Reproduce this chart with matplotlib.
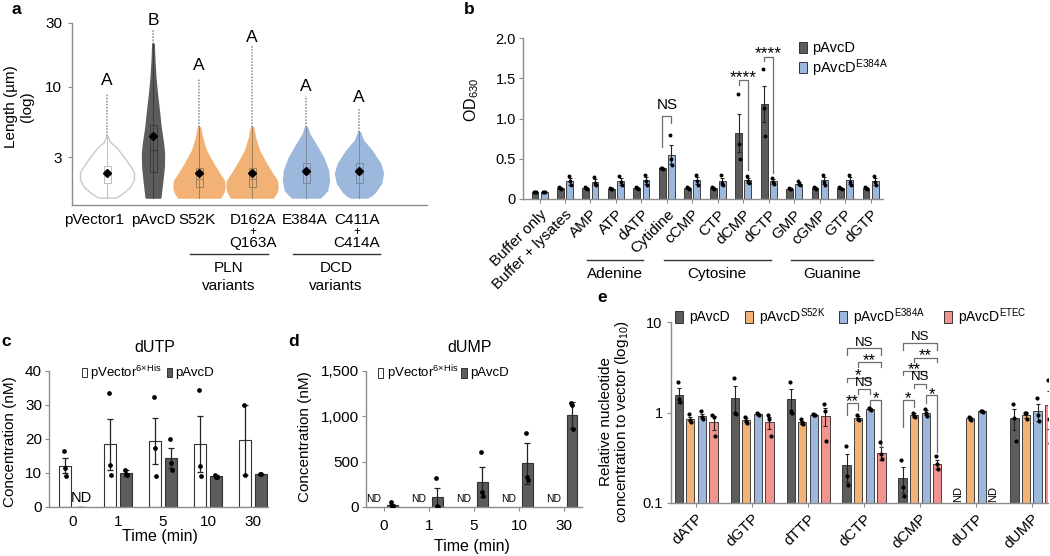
import numpy as np
import matplotlib
matplotlib.use('Agg')
import matplotlib.pyplot as plt
from matplotlib.patches import Rectangle
from matplotlib.ticker import NullLocator, FixedLocator

plt.rcParams['font.family'] = ['Liberation Sans', 'DejaVu Sans']
plt.rcParams['mathtext.fontset'] = 'custom'
plt.rcParams['mathtext.rm'] = 'Liberation Sans'
plt.rcParams['mathtext.default'] = 'regular'

# ---------------- data ----------------
# panel a (violins; profile = length level, half-width in px)
a_groups = ['pVector1', 'pAvcD', 'S52K', 'D162A', 'E384A', 'C411A']
a_prof_len = [
    [1.5, 1.62, 1.8, 2.03, 2.3, 2.53, 3.0, 3.5, 3.9, 4.3],
    [1.5, 1.92, 2.53, 3.2, 3.8, 5.0, 6.7, 9.0, 11.7, 15.9, 21.0],
    [1.5, 1.65, 1.8, 2.0, 2.28, 2.7, 3.36, 4.2, 5.0],
    [1.5, 1.65, 1.8, 2.0, 2.28, 2.7, 3.36, 4.2, 5.0],
    [1.5, 1.6, 1.7, 2.0, 2.4, 3.0, 3.8, 4.5, 5.0],
    [1.5, 1.55, 1.65, 1.92, 2.28, 2.7, 3.36, 4.0, 4.6],
]
a_prof_hw = [
    [9, 16, 23, 27, 27, 24, 17, 10, 3, 0.8],
    [7.3, 9, 10.7, 11, 10, 7.6, 5.8, 3.8, 2.4, 1.3, 0.7],
    [21, 24.5, 25.5, 25, 20, 14, 7, 3, 1.2],
    [21, 24.5, 25.5, 25, 20, 14, 7, 3, 1.2],
    [14, 18, 21, 23, 22, 17, 9, 3, 1.2],
    [8, 12, 16, 22, 24, 21, 12.7, 4, 1],
]
a_tail_top = [9.0, 26.3, 11.6, 20.4, 8.6, 6.9]
a_q1 = [1.92, 2.31, 1.8, 1.8, 1.92, 1.92]
a_median = [2.2, 3.36, 2.06, 2.06, 2.24, 2.24]
a_q3 = [2.57, 5.16, 2.49, 2.49, 2.71, 2.71]
a_mean = [2.29, 4.34, 2.28, 2.28, 2.35, 2.35]
a_letters = ['A', 'B', 'A', 'A', 'A', 'A']

# panel b
b_cats = ['Buffer only', 'Buffer + lysates', 'AMP', 'ATP', 'dATP', 'Cytidine', 'cCMP',
          'CTP', 'dCMP', 'dCTP', 'GMP', 'cGMP', 'GTP', 'dGTP']
b_wt = [0.09, 0.14, 0.14, 0.13, 0.14, 0.38, 0.14, 0.14, 0.82, 1.18, 0.13, 0.14, 0.14, 0.14]
b_wt_sem = [0.005, 0.01, 0.01, 0.01, 0.01, 0.01, 0.01, 0.01, 0.24, 0.22, 0.01, 0.01, 0.01, 0.01]
b_wt_pts = [[0.09, 0.09, 0.09], [0.15, 0.14, 0.13], [0.15, 0.14, 0.13], [0.14, 0.13, 0.12],
            [0.15, 0.14, 0.13], [0.39, 0.38, 0.37], [0.15, 0.14, 0.13], [0.15, 0.14, 0.13],
            [1.3, 0.68, 0.5], [1.61, 1.13, 0.78], [0.14, 0.13, 0.12], [0.15, 0.14, 0.13],
            [0.15, 0.14, 0.13], [0.15, 0.14, 0.13]]
b_mut = [0.09, 0.22, 0.21, 0.22, 0.23, 0.55, 0.23, 0.22, 0.23, 0.22, 0.19, 0.23, 0.23, 0.22]
b_mut_sem = [0.005, 0.04, 0.04, 0.04, 0.04, 0.12, 0.04, 0.04, 0.03, 0.03, 0.02, 0.04, 0.04, 0.04]
b_mut_pts = [[0.09, 0.09, 0.09], [0.28, 0.22, 0.17], [0.27, 0.2, 0.17], [0.29, 0.21, 0.17],
             [0.3, 0.22, 0.18], [0.8, 0.5, 0.42], [0.3, 0.22, 0.18], [0.3, 0.2, 0.17],
             [0.28, 0.22, 0.2], [0.26, 0.21, 0.19], [0.22, 0.19, 0.17], [0.3, 0.21, 0.18],
             [0.3, 0.21, 0.18], [0.29, 0.21, 0.17]]
b_group_names = ['Adenine', 'Cytosine', 'Guanine']
b_group_span = [(2, 4), (5, 9), (10, 13)]
# significance: (category, label, bracket top, left leg end, right leg end, label y)
b_sig = [(5, 'NS', 1.03, 0.65, 0.94, 1.17),
         (8, '****', 1.48, 1.42, 0.36, 1.56),
         (9, '****', 1.77, 1.71, 0.32, 1.86)]

# panel c (dUTP)
c_times = ['0', '1', '5', '10', '30']
c_vec = [12.2, 18.5, 19.5, 18.5, 19.7]
c_vec_sem = [2.3, 7.5, 6.8, 8.2, 10.2]
c_vec_pts = [[16.6, 11.5, 9.2], [33.5, 12.5, 9.5], [32.3, 17.3, 9.0], [34.5, 12.2, 9.2], [30.0, 9.5]]
c_avcd = [np.nan, 10.0, 14.4, 9.0, 9.7]
c_avcd_sem = [0, 0.8, 3.0, 0.3, 0.1]
c_avcd_pts = [[], [11.0, 9.6, 9.4], [20.0, 13.0, 11.0], [9.3, 8.9, 8.9], [9.8, 9.6]]

# panel d (dUMP)
d_times = ['0', '1', '5', '10', '30']
d_avcd = [25, 110, 280, 480, 1015]
d_avcd_sem = [10, 105, 165, 230, 145]
d_avcd_pts = [[55, 15, 5], [320, 10, 5], [610, 160, 120], [816, 330, 300], [1150, 1130, 865]]

# panel e
e_cats = ['dATP', 'dGTP', 'dTTP', 'dCTP', 'dCMP', 'dUTP', 'dUMP']
e_series = ['pAvcD', 'pAvcD$^{S52K}$', 'pAvcD$^{E384A}$', 'pAvcD$^{ETEC}$']
e_mean = [
    [1.58, 1.46, 1.40, 0.26, 0.19, np.nan, 0.87],
    [0.85, 0.82, 0.78, 0.87, 0.94, 0.86, 0.94],
    [0.91, 0.96, 0.95, 1.09, 1.00, 1.03, 1.03],
    [0.78, 0.78, 0.91, 0.36, 0.27, np.nan, 1.20],
]
e_sem = [
    [0.30, 0.50, 0.40, 0.09, 0.06, 0, 0.23],
    [0.05, 0.04, 0.03, 0.04, 0.04, 0.03, 0.06],
    [0.05, 0.01, 0.02, 0.03, 0.07, 0.01, 0.22],
    [0.14, 0.12, 0.20, 0.06, 0.03, 0, 0.55],
]
e_pts = [
    [[2.2, 1.42, 1.31], [2.4, 1.0, 0.97], [2.2, 1.05, 1.0], [0.43, 0.2, 0.16], [0.3, 0.15, 0.12], [], [1.25, 0.87, 0.49]],
    [[0.97, 0.82, 0.78], [0.9, 0.8, 0.76], [0.84, 0.77, 0.74], [0.95, 0.85, 0.82], [1.0, 0.92, 0.9], [0.9, 0.86, 0.83], [1.0, 0.98, 0.85]],
    [[1.03, 0.9, 0.85], [0.98, 0.96, 0.95], [0.97, 0.95, 0.94], [1.12, 1.08, 1.06], [1.1, 1.0, 0.92], [1.04, 1.03, 1.02], [1.46, 0.95, 0.8]],
    [[0.95, 0.9, 0.55], [0.95, 0.85, 0.55], [1.25, 1.05, 0.48], [0.47, 0.35, 0.31], [0.33, 0.27, 0.24], [], [2.3, 0.85, 0.46]],
]
# (category, bar i, bar j, bracket top, left leg end, right leg end, label, label y)
e_sig = [
    (3, 0, 3, 5.1, 4.3, 4.3, 'NS', 6.0),
    (3, 1, 3, 3.57, 3.19, 3.19, '**', 4.3),
    (3, 0, 2, 2.43, 2.18, 2.18, '*', 2.88),
    (3, 1, 2, 1.8, 1.62, 1.62, 'NS', 2.18),
    (3, 0, 1, 1.28, 0.93, 1.06, '**', 1.51),
    (3, 2, 3, 1.37, 1.1, 0.42, '*', 1.62),
    (4, 0, 3, 5.8, 4.88, 4.88, 'NS', 6.97),
    (4, 1, 3, 4.05, 3.62, 3.62, '**', 4.8),
    (4, 0, 2, 2.88, 2.58, 2.58, '**', 3.42),
    (4, 1, 2, 2.04, 1.86, 1.86, 'NS', 2.52),
    (4, 0, 1, 1.39, 0.69, 1.15, '*', 1.62),
    (4, 2, 3, 1.55, 1.26, 0.37, '*', 1.8),
]

# ---------------- style ----------------
W, H = 1050, 556
fig = plt.figure(figsize=(W / 100, H / 100), dpi=100)
DARK = '#5c5c5c'
ORANGE = '#f2b276'
BLUE = '#9db8dd'
RED = '#f19490'
SPINE = '#8c8c8c'
BR = '#6e6e6e'


def axes_px(l, t, r, b):
    return fig.add_axes([l / W, 1 - b / H, (r - l) / W, (b - t) / H])


def ftext(x, y, s, **kw):
    kw.setdefault('ha', 'center')
    kw.setdefault('va', 'center')
    return fig.text(x / W, 1 - y / H, s, **kw)


def fline(x1, x2, y, **kw):
    fig.add_artist(plt.Line2D([x1 / W, x2 / W], [1 - y / H, 1 - y / H],
                              transform=fig.transFigure, **kw))


def fsquare(x, y, w, h, color):
    fig.add_artist(Rectangle((x / W, 1 - (y + h) / H), w / W, h / H, transform=fig.transFigure,
                             facecolor=color, edgecolor='#333333', lw=0.7))


def style(ax, pad=3, ls=10):
    for s in ['top', 'right']:
        ax.spines[s].set_visible(False)
    for s in ['left', 'bottom']:
        ax.spines[s].set_color(SPINE)
        ax.spines[s].set_linewidth(1.0)
    ax.tick_params(axis='both', color=SPINE, length=3, width=0.8, labelsize=ls, pad=pad)


# ---------------- panel a ----------------
axa = axes_px(72, 22.7, 427, 205)
style(axa, pad=4, ls=11)
axa.set_yscale('log')
axa.set_ylim(1.32, 30)
axa.set_xlim(72, 427)
a_pos = [107, 153, 199, 252, 306, 359]
a_face = ['white', DARK, ORANGE, ORANGE, BLUE, BLUE]
a_edge = ['#c9c9c9', DARK, ORANGE, ORANGE, BLUE, BLUE]
a_box = ['#bdbdbd', '#3a3a3a', '#9a8060', '#9a8060', '#7a8aa0', '#7a8aa0']
for i in range(len(a_groups)):
    c = a_pos[i]
    lv = np.array(a_prof_len[i])
    hw = np.array(a_prof_hw[i])
    axa.fill_betweenx(lv, c - hw, c + hw, facecolor=a_face[i], edgecolor=a_edge[i], lw=1.0, zorder=2)
    axa.plot([c, c], [lv[-1], a_tail_top[i]], color='#8a8a8a', lw=1.1, ls=(0, (1.0, 1.0)), zorder=3)
    axa.plot([c, c], [lv[0], lv[-1]], color=a_box[i], lw=0.7, zorder=3)
    axa.add_patch(Rectangle((c - 3.5, a_q1[i]), 7, a_q3[i] - a_q1[i], facecolor='white' if i == 0 else 'none',
                            edgecolor=a_box[i], lw=0.7, zorder=4))
    axa.plot([c - 3.5, c + 3.5], [a_median[i]] * 2, color=a_box[i], lw=0.7, zorder=4)
    axa.plot(c, a_mean[i], marker='D', ms=3.6, color='black', zorder=5)
a_letter_y = [11.2, 30.9, 14.4, 23.3, 10.0, 8.3]
for i, L in enumerate(a_letters):
    axa.text(a_pos[i], a_letter_y[i], L, ha='center', va='center', fontsize=12.5, clip_on=False)
axa.set_yticks([3, 10, 30])
axa.set_yticklabels(['3', '10', '30'])
axa.yaxis.set_minor_locator(NullLocator())
axa.set_xticks([])
fs_a = 11
ftext(94, 224, 'pVector1', va='baseline', fontsize=fs_a)
ftext(153, 224, 'pAvcD', va='baseline', fontsize=fs_a)
ftext(197, 224, 'S52K', va='baseline', fontsize=fs_a)
ftext(253, 224, 'D162A', va='baseline', fontsize=fs_a)
ftext(253, 232, '+', fontsize=8.5)
ftext(253, 247, 'Q163A', va='baseline', fontsize=fs_a)
ftext(305, 224, 'E384A', va='baseline', fontsize=fs_a)
ftext(357, 224, 'C411A', va='baseline', fontsize=fs_a)
ftext(357, 232, '+', fontsize=8.5)
ftext(357, 247, 'C414A', va='baseline', fontsize=fs_a)
fline(190, 268, 254, color='#333333', lw=1.0)
fline(293, 380, 254, color='#333333', lw=1.0)
ftext(229, 268, 'PLN', fontsize=fs_a)
ftext(229, 286, 'variants', fontsize=fs_a)
ftext(336, 268, 'DCD', fontsize=fs_a)
ftext(336, 286, 'variants', fontsize=fs_a)
ftext(19, 107, 'Length (µm)\n(log)', rotation=90, fontsize=11, linespacing=1.2)
ftext(16, 9, 'a', fontsize=12.5, fontweight='bold')

# ---------------- panel b ----------------
axb = axes_px(523, 38, 883, 199)
style(axb, pad=2, ls=10.5)
xb = np.arange(len(b_cats))
ek = dict(elinewidth=0.8, capsize=1.6, capthick=0.8, ecolor='#222222')
axb.bar(xb - 0.18, b_wt, 0.27, color=DARK, edgecolor='#2a2a2a', lw=0.6, yerr=b_wt_sem, error_kw=ek, zorder=2)
axb.bar(xb + 0.18, b_mut, 0.27, color=BLUE, edgecolor='#2a2a2a', lw=0.6, yerr=b_mut_sem, error_kw=ek, zorder=2)
jit = [-0.04, 0.0, 0.04]
for i in range(len(b_cats)):
    for k, v in enumerate(b_wt_pts[i]):
        axb.plot(i - 0.18 + jit[k], v, 'o', ms=1.8, color='black', zorder=4)
    for k, v in enumerate(b_mut_pts[i]):
        axb.plot(i + 0.18 + jit[k], v, 'o', ms=1.8, color='black', zorder=4)
for (i, lab, top, yl, yr, ylab) in b_sig:
    axb.plot([i - 0.18, i - 0.18, i + 0.18, i + 0.18], [yl, top, top, yr], color=BR, lw=0.9, zorder=3)
    if lab == 'NS':
        axb.text(i, ylab, lab, ha='center', va='center', fontsize=11)
    else:
        axb.text(i, ylab - 0.05, lab, ha='center', va='center', fontsize=12.5)
axb.set_xlim(-0.65, 13.49)
axb.set_ylim(0, 2.0)
axb.set_yticks([0, 0.5, 1.0, 1.5, 2.0])
axb.set_yticklabels(['0', '0.5', '1.0', '1.5', '2.0'])
axb.set_xticks(xb)
axb.set_xticklabels(b_cats, rotation=45, ha='right', rotation_mode='anchor', fontsize=11)
axb.tick_params(axis='x', pad=3)
for name, (s, e) in zip(b_group_names, b_group_span):
    x1 = 539.5 + 25.46 * (s - 0.12)
    x2 = 539.5 + 25.46 * (e + 0.08)
    fline(x1, x2, 260, color='#333333', lw=1.0)
    ftext((x1 + x2) / 2, 274, name, fontsize=11)
ftext(472, 100, 'OD$_{630}$', rotation=90, fontsize=11.5)
ftext(469, 9, 'b', fontsize=12.5, fontweight='bold')
fsquare(799, 42, 8, 11, DARK)
ftext(812, 48, 'pAvcD', ha='left', fontsize=10.5)
fsquare(799, 62, 8, 11, BLUE)
ftext(812, 68, 'pAvcD$^{E384A}$', ha='left', fontsize=10.5)

# ---------------- panel c ----------------
axc = axes_px(49, 371, 268, 507)
style(axc, pad=2, ls=11)
xc = np.arange(len(c_times))
ek2 = dict(elinewidth=0.9, capsize=2.2, capthick=0.9, ecolor='#222222')
axc.bar(xc - 0.18, c_vec, 0.26, color='white', edgecolor='#333333', lw=0.8, yerr=c_vec_sem, error_kw=ek2, zorder=2)
axc.bar(xc + 0.18, np.nan_to_num(c_avcd), 0.26, color=DARK, edgecolor='#333333', lw=0.8,
        yerr=c_avcd_sem, error_kw=ek2, zorder=2)
for i in range(len(c_times)):
    for k, v in enumerate(c_vec_pts[i]):
        axc.plot(i - 0.18 + jit[k] * 0.6, v, 'o', ms=2.4, color='black', zorder=4)
    for k, v in enumerate(c_avcd_pts[i]):
        axc.plot(i + 0.18 + jit[k] * 0.6, v, 'o', ms=2.4, color='black', zorder=4)
axc.text(0.18, 2.6, 'ND', ha='center', va='center', fontsize=10.5)
axc.set_xlim(-0.53, 4.33)
axc.set_ylim(0, 40)
axc.set_yticks([0, 10, 20, 30, 40])
axc.set_xticks(xc)
axc.set_xticklabels(c_times)
axc.tick_params(axis='x', length=0, pad=6)
ftext(10, 442, 'Concentration (nM)', rotation=90, fontsize=11)
ftext(160, 537, 'Time (min)', fontsize=11.5)
ftext(155, 347, 'dUTP', fontsize=11.5)
ftext(6, 342, 'c', fontsize=12.5, fontweight='bold')
fsquare(82, 368, 5, 9, 'white')
ftext(90, 373, 'pVector$^{6{\\times}His}$', ha='left', fontsize=9.5)
fsquare(167, 368, 5, 9, DARK)
ftext(175, 373, 'pAvcD', ha='left', fontsize=9.5)

# ---------------- panel d ----------------
axd = axes_px(366, 371, 582, 507)
style(axd, pad=2, ls=11)
xd = np.arange(len(d_times))
axd.bar(xd + 0.18, d_avcd, 0.24, color=DARK, edgecolor='#333333', lw=0.8, yerr=d_avcd_sem,
        error_kw=ek2, zorder=2)
for i in range(len(d_times)):
    for k, v in enumerate(d_avcd_pts[i]):
        axd.plot(i + 0.18 + jit[k] * 0.6, v, 'o', ms=2.4, color='black', zorder=4)
    axd.text(i - 0.22, 85, 'ND', ha='center', va='center', fontsize=7.5)
axd.set_xlim(-0.4, 4.4)
axd.set_ylim(0, 1500)
axd.set_yticks([0, 500, 1000, 1500])
axd.set_yticklabels(['0', '500', '1,000', '1,500'])
axd.set_xticks(xd)
axd.set_xticklabels(d_times)
axd.tick_params(axis='x', length=3, pad=6)
ftext(305, 437, 'Concentration (nM)', rotation=90, fontsize=11)
ftext(472, 546, 'Time (min)', fontsize=11.5)
ftext(470, 347, 'dUMP', fontsize=11.5)
ftext(294, 342, 'd', fontsize=12.5, fontweight='bold')
fsquare(378, 368, 5, 10, 'white')
ftext(387, 373, 'pVector$^{6{\\times}His}$', ha='left', fontsize=9.5)
fsquare(461, 368, 6, 10, DARK)
ftext(470, 373, 'pAvcD', ha='left', fontsize=9.5)

# ---------------- panel e ----------------
axe = axes_px(671, 322, 1048, 503)
style(axe, pad=3, ls=10.5)
axe.set_yscale('log')
xe = np.arange(len(e_cats))
offs = [-0.31, -0.105, 0.105, 0.31]
e_colors = [DARK, ORANGE, BLUE, RED]
ek3 = dict(elinewidth=0.8, capsize=1.6, capthick=0.8, ecolor='#222222')
for s in range(4):
    vals = np.array(e_mean[s])
    axe.bar(xe + offs[s], vals, 0.15, color=e_colors[s], edgecolor='#2a2a2a', lw=0.6,
            yerr=e_sem[s], error_kw=ek3, zorder=2)
    for i in range(len(e_cats)):
        for k, v in enumerate(e_pts[s][i]):
            axe.plot(i + offs[s] + jit[k] * 0.5, v, 'o', ms=2.0, color='black', zorder=4)
for i in range(len(e_cats)):
    for s in range(4):
        if np.isnan(e_mean[s][i]):
            axe.text(i + offs[s], 0.125, 'ND', rotation=90, ha='center', va='center', fontsize=8)
for (g, i, j, top, yl, yr, lab, ylab) in e_sig:
    x1 = g + offs[i]
    x2 = g + offs[j]
    axe.plot([x1, x1, x2, x2], [yl, top, top, yr], color=BR, lw=0.9, zorder=3)
    if lab == 'NS':
        axe.text((x1 + x2) / 2, ylab * 0.98, lab, ha='center', va='center', fontsize=9.5)
    else:
        axe.text((x1 + x2) / 2, ylab * 0.88, lab, ha='center', va='center', fontsize=12)
axe.set_xlim(-0.45, 6.29)
axe.set_ylim(0.1, 10)
axe.yaxis.set_major_locator(FixedLocator([0.1, 1, 10]))
axe.yaxis.set_minor_locator(NullLocator())
axe.set_yticklabels(['0.1', '1', '10'])
axe.set_xticks(xe)
axe.set_xticklabels(e_cats, rotation=45, ha='right', rotation_mode='anchor', fontsize=11)
ftext(606, 422, 'Relative nucleotide', rotation=90, fontsize=11)
ftext(622, 422, 'concentration to vector (log$_{10}$)', rotation=90, fontsize=11)
ftext(602, 298, 'e', fontsize=12.5, fontweight='bold')
leg_x = [675, 745, 839, 944]
for s in range(4):
    fsquare(leg_x[s], 311, 8, 12, e_colors[s])
    ftext(leg_x[s] + 14, 317, e_series[s], ha='left', fontsize=10)

fig.savefig('out.png', dpi=100)
